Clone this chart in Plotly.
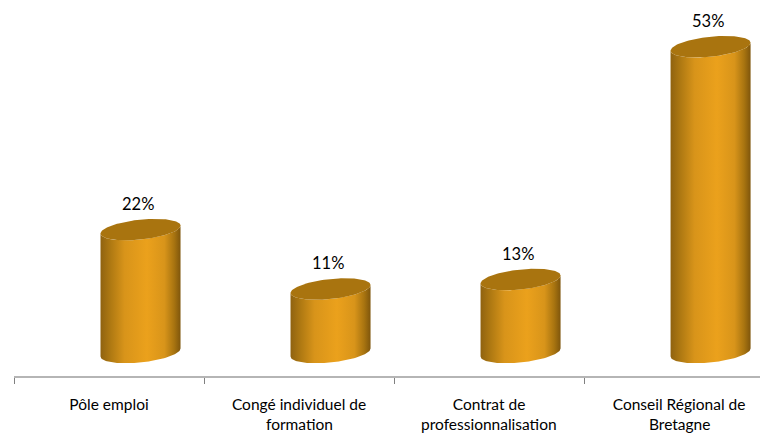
import numpy as np
import plotly.graph_objects as go

categories = ["Pôle emploi", "Congé individuel de", "Contrat de", "Conseil Régional de"]
categories_line2 = ["", "formation", "professionnalisation", "Bretagne"]
values = [21.3, 11.0, 12.65, 53.0]
value_labels = ["22%", "11%", "13%", "53%"]

PX_X = 190.0
PX_Y = 5.77
DEPTH = 31.5 / PX_X
RX = 40 / PX_X
t = np.linspace(0, 2 * np.pi, 121)


def rim(y0, tt):
    return RX * np.cos(tt), y0 + (4.0 * np.cos(tt) - 10 * np.sin(tt)) / PX_Y


GRADIENT = [[0, "#8f6210"], [0.12, "#ad7812"], [0.3, "#d8941a"], [0.58, "#eba11c"],
            [0.8, "#d8941a"], [0.92, "#a87410"], [1, "#7f560c"]]

fig = go.Figure()
for i, v in enumerate(values):
    cx = i + DEPTH
    front = np.linspace(0, np.pi, 61)
    bx, by = rim(0, front)
    tx, ty = rim(v, front[::-1])
    fig.add_trace(go.Scatter(
        x=np.r_[cx + bx, cx + tx], y=np.r_[by, ty], mode="lines", line=dict(width=0),
        fill="toself", hoverinfo="skip", showlegend=False,
        fillgradient=dict(type="horizontal", colorscale=GRADIENT)))
    ex, ey = rim(v, t)
    fig.add_trace(go.Scatter(
        x=cx + ex, y=ey, mode="lines", line=dict(width=0), fill="toself",
        fillcolor="#a9740f", hoverinfo="skip", showlegend=False))

annotations = [dict(x=i + DEPTH, y=v, text=value_labels[i], showarrow=False, yshift=26, xshift=-3,
                    font=dict(family="Lato", size=16.5, color="#000000"))
               for i, v in enumerate(values)]
annotations += [dict(x=i, y=0, yref="paper", yanchor="middle", xanchor="center", text=s, showarrow=False,
                     yshift=-47.5, font=dict(family="Lato", size=15.5, color="#000000"))
                for i, s in enumerate(categories_line2) if s]

fig.update_layout(
    width=760, height=425, autosize=False,
    margin=dict(l=6, r=0, t=0, b=57),
    paper_bgcolor="#ffffff", plot_bgcolor="#ffffff",
    showlegend=False, annotations=annotations,
    font=dict(family="Lato", size=15.5, color="#000000"),
    xaxis=dict(range=[-0.5, 3.468], tickmode="array", tickvals=list(range(4)), ticktext=categories,
               ticks="", showgrid=False, zeroline=False, showline=True, linecolor="#b5b5b5", linewidth=2,
               ticklabelstandoff=13,
               minor=dict(tickmode="array", tickvals=[-0.5, 0.5, 1.5, 2.5], ticks="outside", ticklen=6,
                          tickcolor="#808080", tickwidth=1, showgrid=False)),
    yaxis=dict(range=[-23.5 / PX_Y, (352.5 - 8) / PX_Y], visible=False, showgrid=False, zeroline=False),
)
fig.write_html("out.html")
